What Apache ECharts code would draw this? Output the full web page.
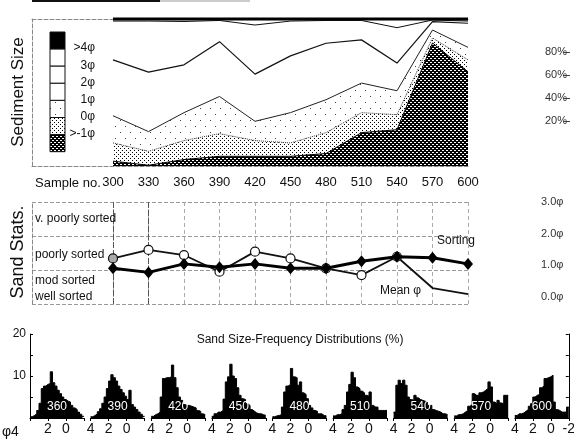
<!DOCTYPE html>
<html><head><meta charset="utf-8">
<script src="https://cdn.jsdelivr.net/npm/echarts@6/dist/echarts.min.js"></script>
<style>html,body{margin:0;padding:0;background:#fff}#c{width:574px;height:440px}</style>
</head><body><div id="c"></div>
<script>
// ---------------- data ----------------
const samples = [300, 330, 360, 390, 420, 450, 480, 510, 540, 570, 600];
// per-class percentages of each sample (bottom to top of the stacked plot)
const gravelPct = [3.3, 0.5, 4.4, 6.6, 6.6, 6.6, 8.5, 22.7, 24.7, 83.7, 64.1];
const coarsePct = [12.4, 9.5, 12.9, 15.4, 10.7, 9.1, 14.2, 13.6, 10.2, 3.4, 8.1];
const mediumPct = [18.5, 13.4, 19.0, 25.3, 13.1, 20.6, 22.4, 20.1, 16.3, 5.4, 8.5];
const finePct = [38.0, 40.5, 32.5, 37.3, 32.1, 38.6, 38.4, 29.4, 18.8, 5.7, 16.4];
const vfinePct = [26.4, 34.7, 29.5, 14.4, 33.4, 23.7, 15.5, 13.2, 24.1, 1.1, 1.5];
const mudPct = [1.4, 1.4, 1.7, 1.0, 4.1, 1.4, 1.0, 1.0, 5.9, 0.7, 1.4];
const legendLabels = ['>4φ', '3φ', '2φ', '1φ', '0φ', '>-1φ'];
const pctTicks = [20, 40, 60, 80];

// sand statistics (phi units)
const sortingPhi = [1.05, 0.93, 1.18, 1.08, 1.18, 1.05, 1.05, 1.26, 1.39, 1.36, 1.18];
const meanPhi = [1.34, 1.59, 1.44, 0.95, 1.54, 1.34, 1.05, 0.85, 1.39, 0.47, 0.29];
const sortLabels = ['v. poorly sorted', 'poorly sorted', 'mod sorted', 'well sorted'];

// sand size-frequency distributions (%), 0.25 phi bins from 4 phi to -2 phi
const phiEdges = [4, 3.75, 3.5, 3.25, 3, 2.75, 2.5, 2.25, 2, 1.75, 1.5, 1.25, 1, 0.75, 0.5, 0.25,
                  0, -0.25, -0.5, -0.75, -1, -1.25, -1.5, -1.75, -2];
const histSamples = [360, 390, 420, 450, 480, 510, 540, 570, 600];
const hist360 = [0.3,0.6,1.0,1.8,3.5,7.0,7.6,8.0,8.2,11.0,8.4,7.6,6.6,5.8,5.0,4.4,4.0,3.8,3.0,2.4,2.0,1.4,0.9,0.4];
const hist390 = [0.3,0.6,1.0,1.5,2.2,3.5,5.0,7.0,8.8,10.3,9.6,8.8,7.6,6.8,6.0,5.2,4.4,6.6,3.2,2.6,2.0,1.4,0.9,0.4];
const hist420 = [0.4,0.8,1.0,1.4,5.0,9.4,9.6,9.6,9.8,12.6,9.6,7.2,5.0,4.2,3.2,3.0,3.0,2.8,2.6,2.4,1.8,1.6,1.0,0.8];
const hist450 = [0.4,1.0,1.4,1.4,1.8,4.5,8.6,9.8,12.8,10.0,9.4,7.2,5.4,4.6,4.4,3.4,3.0,2.0,1.6,1.2,1.0,1.0,0.8,0.6];
const hist480 = [0.3,0.5,0.6,0.8,2.6,6.2,7.6,8.0,11.8,9.8,9.6,7.8,8.6,6.0,5.6,4.6,3.0,2.4,1.8,1.6,1.0,1.0,0.6,0.5];
const hist510 = [0.5,0.8,0.8,1.0,2.0,3.0,6.2,8.0,10.9,9.6,7.4,7.0,6.4,6.0,5.4,5.2,6.2,3.0,2.6,2.6,1.8,1.8,1.8,1.8];
const hist540 = [1.4,7.8,9.0,8.2,9.0,7.8,5.0,4.4,4.2,5.4,4.8,4.4,4.2,4.0,3.8,3.0,3.0,2.0,1.8,1.6,1.4,1.0,1.0,0.8];
const hist570 = [0.5,0.8,0.8,1.0,1.4,1.8,2.8,3.2,5.8,5.4,5.4,6.0,6.2,6.6,7.0,8.6,7.4,3.8,3.4,4.2,3.6,3.4,5.4,5.4];
const hist600 = [0.6,1.0,1.0,1.2,1.6,2.0,2.8,3.4,5.0,5.4,5.6,7.2,7.6,9.4,9.6,9.8,10.2,3.8,2.0,1.8,1.4,1.4,1.4,2.6];
const histData = [hist360, hist390, hist420, hist450, hist480, hist510, hist540, hist570, hist600];
const histYLabels = [10, 20];

// ---------------- styling helpers ----------------
const FONT = "'Liberation Sans', Arial, Helvetica, sans-serif";
function pattern(w, h, bg, fg, pts) {
  const c = document.createElement('canvas');
  c.width = w; c.height = h;
  const g = c.getContext('2d');
  g.fillStyle = bg; g.fillRect(0, 0, w, h);
  g.fillStyle = fg;
  pts.forEach(p => g.fillRect(p[0], p[1], 1, 1));
  return { image: c, repeat: 'repeat' };
}
const fillDark = pattern(4, 4, '#000', '#fff', [[0,0],[1,0],[2,2],[3,2]]);
const fillMedium = pattern(4, 4, '#fff', '#000', [[0,0],[2,2]]);
const fillSparse = pattern(10, 12, '#fff', '#444', [[0,0],[5,6]]);

const classDefs = [
  { name: '<-1φ', data: gravelPct, fill: fillDark, line: { color: '#000', width: 1 } },
  { name: '-1–0φ', data: coarsePct, fill: fillMedium, line: { color: '#333', width: 1, type: 'dotted' } },
  { name: '0–1φ', data: mediumPct, fill: fillSparse, line: { color: '#222', width: 1 } },
  { name: '1–3φ', data: finePct, fill: '#fff', line: { color: '#111', width: 1.2 } },
  { name: '3–4φ', data: vfinePct, fill: '#fff', line: { color: '#111', width: 1 } },
  { name: '>4φ', data: mudPct, fill: '#fff', line: { color: '#000', width: 3 } }
];

const dashed = { show: true, onZero: false, lineStyle: { color: '#888', type: 'dashed', width: 1 } };
const off = { show: false };

const grids = [
  { left: 113, top: 19, width: 355, height: 147 },         // 0 sediment size data
  { left: 32, top: 19, width: 436, height: 147 },          // 1 sediment frame
  { left: 570, top: 29, width: 1, height: 115 },           // 2 % labels
  { left: 113, top: 202, width: 355, height: 102 },        // 3 sand stats data
  { left: 32, top: 202, width: 436, height: 102 },         // 4 sand stats frame
  { left: 538, top: 202, width: 1, height: 95 }            // 5 phi labels
];
const xAxes = [
  { gridIndex: 0, type: 'category', data: samples, boundaryGap: false, axisLine: off, axisTick: off,
    splitLine: off, axisLabel: { interval: 0, margin: 10, fontSize: 13, color: '#111', fontFamily: FONT } },
  { gridIndex: 1, type: 'value', min: 0, max: 1, axisLine: dashed, axisTick: off, axisLabel: off, splitLine: off },
  { gridIndex: 1, type: 'value', min: 0, max: 1, position: 'top', axisLine: dashed, axisTick: off, axisLabel: off, splitLine: off },
  { gridIndex: 2, type: 'value', show: false },
  { gridIndex: 3, type: 'category', data: samples, boundaryGap: false, axisLine: off,
    axisTick: { show: true, inside: true, length: 102, interval: 0, lineStyle: { color: '#aaa', type: [4, 3], width: 1 } },
    axisLabel: off, splitLine: off },
  { gridIndex: 3, type: 'category', data: samples, boundaryGap: false, axisLine: off,
    axisTick: { show: true, inside: true, length: 102, interval: (idx) => idx < 2, lineStyle: { color: '#555', type: [6, 2], width: 1 } },
    axisLabel: off, splitLine: off },
  { gridIndex: 4, type: 'value', min: 0, max: 1, show: false },
  { gridIndex: 5, type: 'value', show: false }
];
const yAxes = [
  { gridIndex: 0, type: 'value', min: 0, max: 100, show: false },
  { gridIndex: 1, type: 'value', min: 0, max: 1, axisLine: dashed, axisTick: off, axisLabel: off, splitLine: off },
  { gridIndex: 2, type: 'value', min: 0, max: 100, position: 'left', axisLine: off,
    axisTick: { show: true, length: 7, customValues: pctTicks, lineStyle: { color: '#444' } },
    axisLabel: { customValues: pctTicks, formatter: '{value}%', margin: 3, fontSize: 11, color: '#333', fontFamily: FONT },
    splitLine: off },
  { gridIndex: 3, type: 'value', min: 0, max: 3, show: false },
  { gridIndex: 4, type: 'value', min: 0, max: 3, interval: 1, axisLine: dashed, axisTick: off, axisLabel: off,
    splitLine: { show: true, lineStyle: { color: '#999', type: 'dashed', width: 1 } } },
  { gridIndex: 5, type: 'value', min: 0, max: 3, interval: 1, position: 'right', axisLine: off,
    axisTick: off, splitLine: off,
    axisLabel: { formatter: v => v.toFixed(1) + 'φ', margin: 2, fontSize: 11, color: '#333', fontFamily: FONT } }
];

const series = [];
classDefs.forEach((c, k) => {
  series.push({
    type: 'line', name: c.name, xAxisIndex: 0, yAxisIndex: 0, stack: 'size',
    data: c.data, symbol: 'none', silent: true,
    lineStyle: c.line, areaStyle: { color: c.fill, opacity: 1 }, clip: k !== classDefs.length - 1,
    z: 2
  });
});
series.push({
  type: 'line', name: 'Mean φ', xAxisIndex: 4, yAxisIndex: 3, data: meanPhi,
  symbol: 'circle', symbolSize: (v, p) => (p.dataIndex >= 9 ? 0 : 9),
  lineStyle: { color: '#111', width: 1.8 },
  itemStyle: { color: p => (p.dataIndex === 0 ? '#aaa' : '#fff'), borderColor: '#111', borderWidth: 1.2 },
  z: 3
});
series.push({
  type: 'line', name: 'Sorting', xAxisIndex: 4, yAxisIndex: 3, data: sortingPhi,
  symbol: 'diamond', symbolSize: [10, 12],
  lineStyle: { color: '#000', width: 3 }, itemStyle: { color: '#000' }, z: 4
});

const graphics = [];
// histogram panels
histSamples.forEach((smp, i) => {
  const gi = grids.length;
  const left = 30 + 60.6 * i;
  grids.push({ left: left, top: 334, width: 54, height: 84 });
  const xv = xAxes.length;
  xAxes.push({ gridIndex: gi, type: 'value', min: -2, max: 4, inverse: true, interval: 2,
    axisLine: { show: true, onZero: false, lineStyle: { color: '#000' } },
    axisTick: { show: true, length: 3, lineStyle: { color: '#000' } },
    splitLine: off,
    axisLabel: { fontSize: 14, color: '#111', margin: 4, fontFamily: FONT,
      formatter: v => ((v === -2 && i < 8) || (v === 4 && i === 0)) ? '' : String(v) } });
  const yi = yAxes.length;
  yAxes.push({ gridIndex: gi, type: 'value', min: 0, max: 20, interval: 5,
    show: i === 0 || i === 8, position: i === 8 ? 'right' : 'left',
    axisLine: { show: true, onZero: false, lineStyle: { color: '#000' } },
    axisTick: { show: true, inside: true, length: 3, lineStyle: { color: '#000' } },
    splitLine: off,
    axisLabel: { show: i === 0, margin: 4, fontSize: 12, color: '#111', fontFamily: FONT,
      formatter: v => (histYLabels.includes(v) ? String(v) : '') } });
  const h = histData[i];
  const pts = h.map((v, k) => [phiEdges[k], v]);
  pts.push([phiEdges[h.length], h[h.length - 1]]);
  series.push({ type: 'line', name: String(smp), xAxisIndex: xv, yAxisIndex: yi,
    data: pts, step: 'end', symbol: 'none', silent: true,
    lineStyle: { color: '#000', width: 1 }, areaStyle: { color: '#000', opacity: 1 } });
  graphics.push({ type: 'text', x: left + 27, y: 407, z: 100,
    style: { text: String(smp), fill: '#fff', font: '12px ' + FONT, textAlign: 'center', textVerticalAlign: 'middle', align: 'center', verticalAlign: 'middle' } });
});

function txt(text, x, y, size, opts) {
  opts = opts || {};
  return Object.assign({ type: 'text', x: x, y: y, z: 100,
    style: { text: text, fill: opts.fill || '#111', font: size + 'px ' + FONT,
      textAlign: opts.align || 'left', align: opts.align || 'left',
      textVerticalAlign: 'middle', verticalAlign: 'middle' } }, opts.extra || {});
}
graphics.push(txt('Sediment Size', 18, 92, 17, { align: 'center', extra: { rotation: Math.PI / 2 } }));
graphics.push(txt('Sand Stats.', 18, 252, 18, { align: 'center', extra: { rotation: Math.PI / 2 } }));
graphics.push(txt('Sample no.', 35, 183, 13));
graphics.push(txt(sortLabels[0], 35, 219, 12));
graphics.push(txt(sortLabels[1], 35, 255, 12));
graphics.push(txt(sortLabels[2], 35, 281, 12));
graphics.push(txt(sortLabels[3], 35, 297, 12));
graphics.push(txt('Sorting', 437, 241, 12));
graphics.push(txt('Mean φ', 380, 291, 12));
graphics.push(txt('Sand Size-Frequency Distributions (%)', 300, 340, 12, { align: 'center' }));
graphics.push(txt('φ4', 2, 432, 14));
// legend of the size classes
const swFills = ['#000', '#fff', '#fff', '#fff', fillSparse, fillMedium, fillDark];
const swH = 17.1;
swFills.forEach((f, k) => {
  graphics.push({ type: 'rect', z: 90, shape: { x: 50, y: 32 + k * swH, width: 15, height: swH },
    style: { fill: f, stroke: '#111', lineWidth: 1 } });
});
legendLabels.forEach((t, k) => {
  graphics.push(txt(t, 95, 32 + (k + 1) * swH - 1, 12, { align: 'right' }));
});
// cropped rule at the very top of the scan
graphics.push({ type: 'line', z: 90, shape: { x1: 32, y1: 1, x2: 160, y2: 1 }, style: { stroke: '#111', lineWidth: 2 } });
graphics.push({ type: 'line', z: 90, shape: { x1: 160, y1: 1, x2: 250, y2: 1 }, style: { stroke: '#999', lineWidth: 1 } });

grids.forEach(g => { g.outerBoundsMode = 'none'; g.containLabel = false; });

const chart = echarts.init(document.getElementById('c'), null, { renderer: 'canvas' });
chart.setOption({
  animation: false,
  backgroundColor: '#fff',
  textStyle: { fontFamily: FONT },
  grid: grids,
  xAxis: xAxes,
  yAxis: yAxes,
  series: series,
  graphic: graphics
});
</script></body></html>
